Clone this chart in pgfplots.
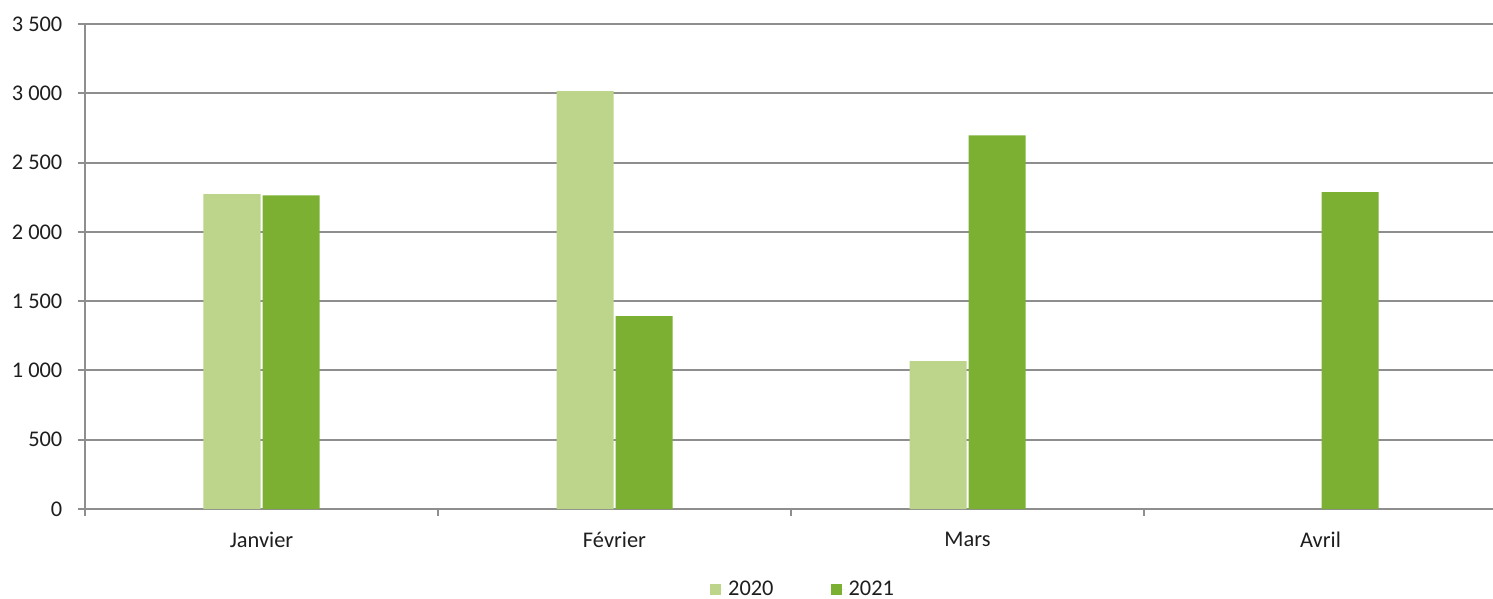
\documentclass[border=0pt]{standalone}
\usepackage{fontspec}
\setmainfont{Carlito}
\usepackage{pgfplots}
\pgfplotsset{compat=1.18}
\definecolor{lg}{HTML}{BCD58B}
\definecolor{dg}{HTML}{7BB032}
\definecolor{gridc}{HTML}{8E8E8E}
\definecolor{txt}{HTML}{1E1E1E}
\begin{document}
\begin{tikzpicture}[font=\fontsize{11.2pt}{13pt}\selectfont]
\begin{axis}[
  scale only axis, width=704pt, height=242.5pt,
  ybar=1pt, bar width=28.5pt,
  xmin=-0.5, xmax=3.4887,
  ymin=0, ymax=3500, ytick={0,500,...,3500},
  xtick={0,1,2,3}, xticklabels={Janvier,F\'evrier,Mars,Avril},
  minor xtick={-0.5,0.5,1.5,2.5},
  axis x line*=bottom, axis y line*=left,
  axis line style={-, draw=gridc, line width=1pt},
  ymajorgrids, major grid style={draw=gridc, line width=1pt},
  tick align=outside, major tick length=3.5pt, minor tick length=3.5pt,
  major x tick style={draw=none},
  minor x tick style={draw=gridc, line width=1pt},
  major y tick style={draw=gridc, line width=1pt},
  ticklabel style={text=txt},
  yticklabel style={anchor=east, xshift=-4.3pt},
  xticklabel style={anchor=north, yshift=-4.3pt},
  /pgf/number format/.cd, 1000 sep={\ }, assume math mode=true, /pgfplots/.cd,
  legend columns=2,
  legend style={draw=none, fill=none, text=txt, at={(0.5107,-0.167)}, anchor=center,
    /tikz/every even column/.append style={column sep=26.5pt}},
]
\addplot[fill=lg, draw=none, legend image code/.code={\fill[lg] (0pt,-2.75pt) rectangle (5.5pt,2.75pt); \path (0pt,0pt) -- (7pt,0pt);}]
  coordinates {(0,2273) (1,3015) (2,1068)};
\addplot[fill=dg, draw=none, legend image code/.code={\fill[dg] (0pt,-2.75pt) rectangle (5.5pt,2.75pt); \path (0pt,0pt) -- (7pt,0pt);}]
  coordinates {(0,2264) (1,1392) (2,2697) (3,2287)};
\legend{2020,2021}
\end{axis}
\pgfresetboundingbox
\path[use as bounding box] (-42.5pt,-45pt) rectangle (704pt,254.5pt);
\end{tikzpicture}
\end{document}
